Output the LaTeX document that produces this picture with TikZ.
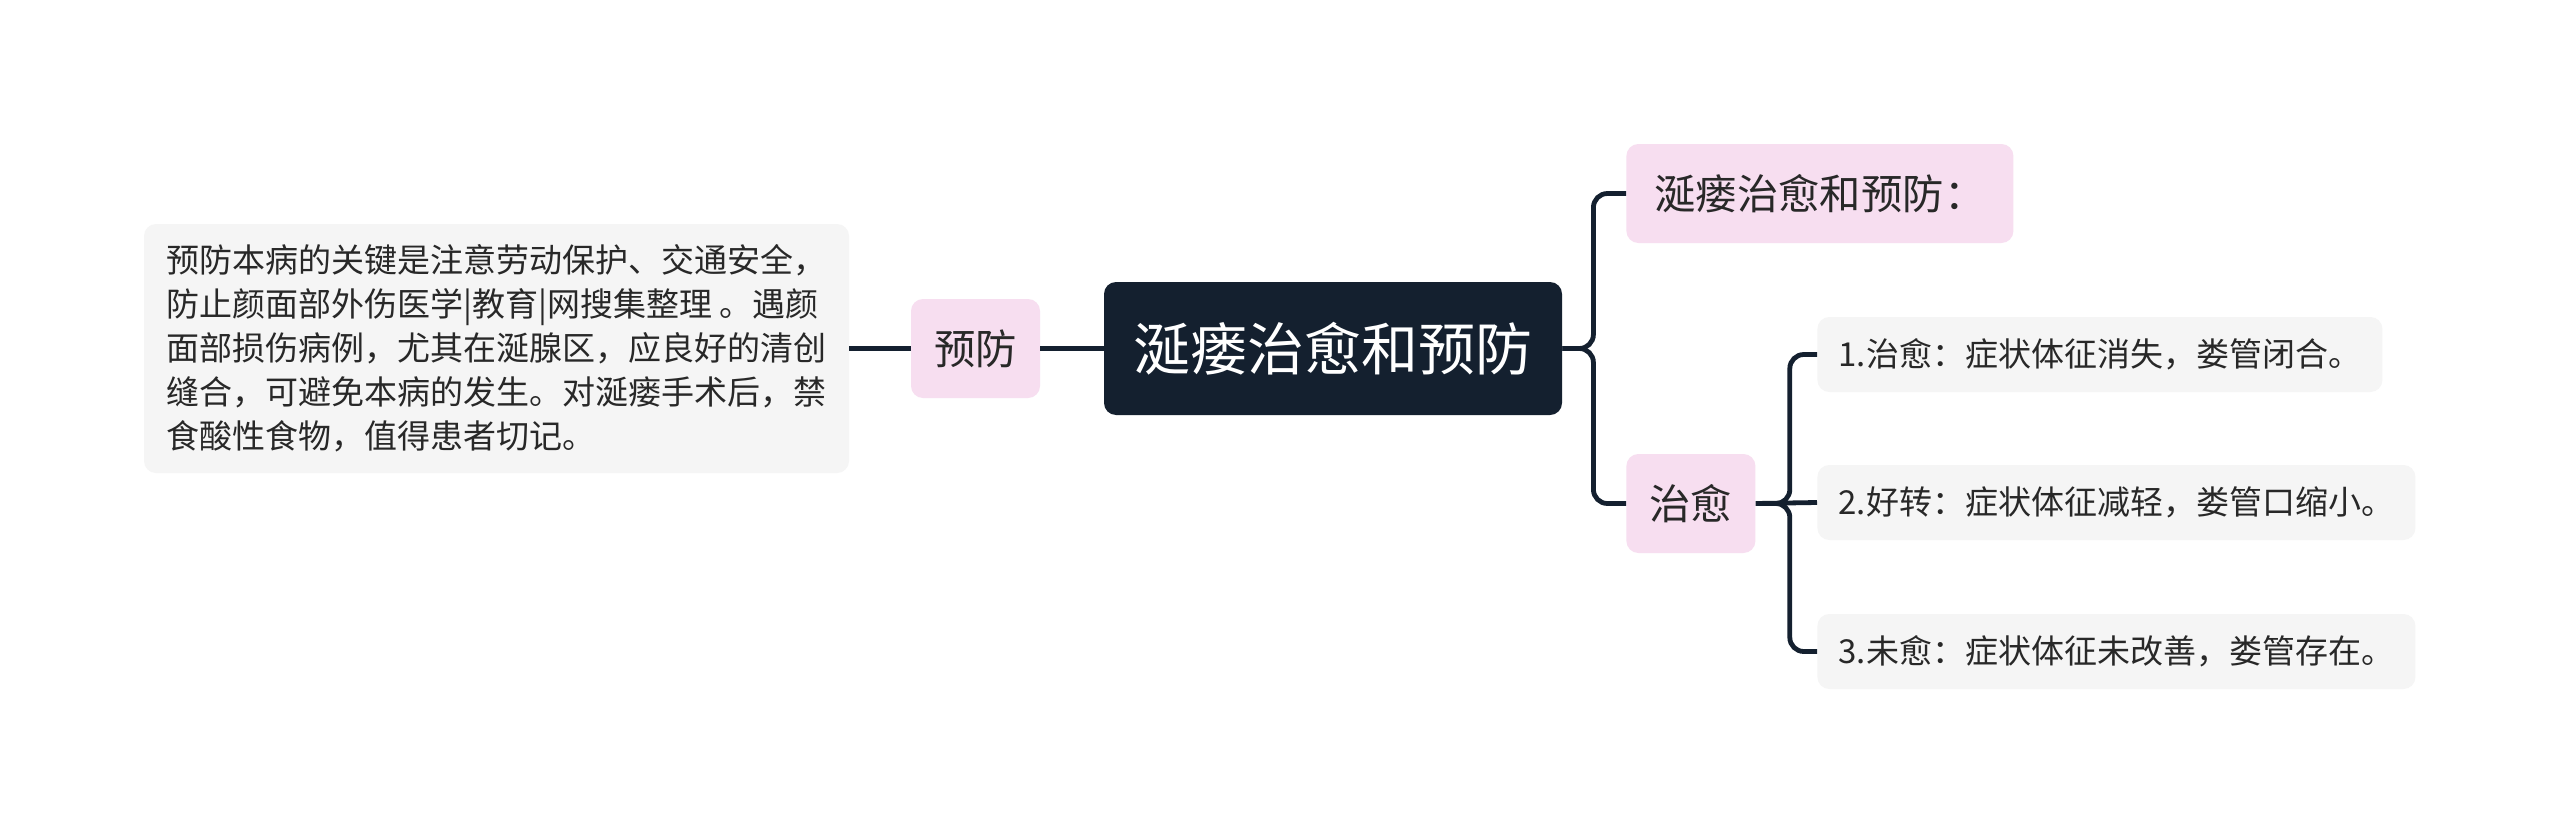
\documentclass[tikz,border=0pt]{standalone}
\usepackage{fontspec}
\setmainfont{Noto Sans CJK SC}
\usepackage{xcolor}
\usetikzlibrary{positioning,calc}
\definecolor{rootfill}{RGB}{20,32,47}
\definecolor{pinkfill}{RGB}{247,222,240}
\definecolor{notefill}{RGB}{245,245,245}
\definecolor{txtcol}{RGB}{40,40,40}
\definecolor{linecol}{RGB}{20,32,47}

\begin{document}
\begin{tikzpicture}[x=0.5pt,y=-0.5pt,
  every node/.style={text=txtcol,inner sep=0pt},
  root/.style={fill=rootfill,text=white,rounded corners=6pt,minimum width=229pt,minimum height=66.5pt,font=\fontsize{28.5pt}{34pt}\selectfont},
  topic/.style={fill=pinkfill,rounded corners=6pt,minimum height=49.5pt,font=\fontsize{20.7pt}{25pt}\selectfont},
  note/.style={fill=notefill,rounded corners=6pt,align=left,inner xsep=9pt,minimum width=352.5pt,minimum height=124.5pt,font=\fontsize{16.5pt}{22pt}\selectfont},
  leaf/.style={fill=notefill,rounded corners=6pt,minimum height=37.5pt,font=\fontsize{16.5pt}{20pt}\selectfont},
  ln/.style={draw=linecol,line width=2.4pt,rounded corners=7pt}]
\fill[white] (0,0) rectangle (2560,835);
\node[root] (root) at (1333,348.5) {涎瘘治愈和预防};
\node[topic,minimum width=64.5pt] (yf) at (975.5,348.5) {预防};
\node[note] (yfnote) at (496.5,348.5) {预防本病的关键是注意劳动保护、交通安全，\\防止颜面部外伤医学|教育|网搜集整理 。遇颜\\面部损伤病例，尤其在涎腺区，应良好的清创\\缝合，可避免本病的发生。对涎瘘手术后，禁\\食酸性食物，值得患者切记。};
\node[topic,anchor=west,minimum width=193.5pt] (title) at (1626,193.5) {涎瘘治愈和预防：};
\node[topic,anchor=west,minimum width=64.5pt] (zy) at (1626,503.5) {治愈};
\node[leaf,anchor=west,minimum width=282.5pt] (zy1) at (1817,354.5) {1.治愈：症状体征消失，娄管闭合。};
\node[leaf,anchor=west,minimum width=299pt] (zy2) at (1817,502.5) {2.好转：症状体征减轻，娄管口缩小。};
\node[leaf,anchor=west,minimum width=299pt] (zy3) at (1817,651.5) {3.未愈：症状体征未改善，娄管存在。};
\draw[ln] (root.west) -- (yf.east);
\draw[ln] (yf.west) -- (yfnote.east);
\draw[ln] (root.east) -- ++(31,0) |- (title.west);
\draw[ln] (root.east) -- ++(31,0) |- (zy.west);
\draw[ln] (zy.east) -- ++(34,0) |- (zy1.west);
\draw[ln] (zy.east) -- (zy2.west);
\draw[ln] (zy.east) -- ++(34,0) |- (zy3.west);
\end{tikzpicture}
\end{document}
